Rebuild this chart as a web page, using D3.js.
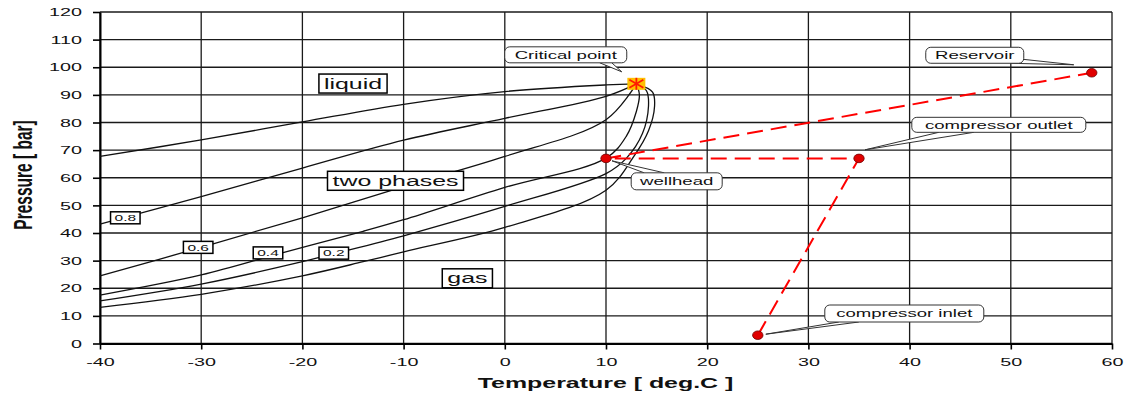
<!DOCTYPE html>
<html>
<head>
<meta charset="utf-8">
<script src="https://cdn.jsdelivr.net/npm/d3@7"></script>
<style>
  body { margin: 0; background: #fff; }
  text { font-family: Arial, "Liberation Sans", sans-serif; fill: #111; }
</style>
</head>
<body>
<svg id="chart"></svg>
<script>
const width = 1131;
const height = 398;
const SX = 1.72; // the original picture is stretched sideways, text too

// ---- data ----
const tempTicks = [-40, -30, -20, -10, 0, 10, 20, 30, 40, 50, 60];
const pressTicks = [0, 10, 20, 30, 40, 50, 60, 70, 80, 90, 100, 110, 120];

// phase envelope (bubble line, quality lines, dew line)
const bubbleT = [-40, -30, -20, -10, 0, 10, 13];
const bubbleP = [67.7, 73.7, 80.2, 86.6, 91.2, 93.6, 94];
const q08T = [-40, -30, -20, -10, 0, 10, 13];
const q08P = [43.2, 53.2, 63.5, 73.6, 81.5, 89.5, 94];
const q06T = [-40, -30, -20, -10, 0, 10, 13];
const q06P = [24.5, 34.8, 45.5, 56.8, 67.7, 81, 94];
const q04T = [-40, -30, -22, -14, -10, 0, 10, 12, 13, 13.3, 13];
const q04P = [17.5, 24.8, 32.8, 40.6, 44.8, 56.5, 67.1, 75, 84, 90, 94];
const q02T = [-40, -30, -20, -17, -10, 0, 10, 12, 13.6, 14.2, 14, 13];
const q02P = [15.4, 21.5, 29.6, 32.4, 39, 49.6, 61.5, 67, 76, 86, 91.5, 94];
const dewT = [-40, -30, -20, -14, -10, 0, 10, 12.8, 14.2, 14.8, 14.6, 13];
const dewP = [13.1, 17.8, 24.5, 29.6, 33.2, 42, 55.5, 68, 77, 86, 91, 94];

const qualityNames = ["0.8", "0.6", "0.4", "0.2"];
const qualityLabelT = [-37.5, -30.3, -23.4, -16.9];
const qualityLabelP = [45.5, 34.8, 32.8, 32.7];

const regionNames = ["liquid", "two phases", "gas"];
const regionT = [-15, -10.8, -3.7];
const regionP = [94.1, 58.9, 23.6];

const criticalT = 13;
const criticalP = 94;

// production path: compressor inlet -> outlet -> wellhead -> reservoir
const pathNames = ["compressor inlet", "compressor outlet", "wellhead", "Reservoir"];
const pathT = [25, 35, 10, 58];
const pathP = [3, 67, 67, 98];

// ---- layout ----
const margin = { top: 12, bottom: 54.5, left: 100, right: 19 };

const svg = d3.select("svg#chart")
  .attr("width", width)
  .attr("height", height);

const x = d3.scaleLinear()
  .domain([-40, 60])
  .range([margin.left, width - margin.right]);
const y = d3.scaleLinear()
  .domain([0, 120])
  .range([height - margin.bottom, margin.top]);

function wideText(sel, px, py, str) {
  return sel.append("text")
    .attr("transform", "translate(" + px + "," + py + ") scale(" + SX + ",1)")
    .text(str);
}

// grid
const grid = svg.append("g").attr("id", "grid")
  .attr("stroke", "#1a1a1a")
  .attr("stroke-width", 1.3);
grid.selectAll("line.v")
  .data(tempTicks)
  .enter().append("line")
    .attr("class", "v")
    .attr("x1", d => x(d)).attr("x2", d => x(d))
    .attr("y1", y(0)).attr("y2", y(120));
grid.selectAll("line.h")
  .data(pressTicks)
  .enter().append("line")
    .attr("class", "h")
    .attr("x1", x(-40)).attr("x2", x(60))
    .attr("y1", d => y(d)).attr("y2", d => y(d));

// axes (plain hyphen for negatives, like the original)
const fmt = d => String(d);
const xAxis = svg.append("g")
  .attr("transform", "translate(0," + y(0) + ")")
  .call(d3.axisBottom(x).tickValues(tempTicks).tickFormat(fmt).tickSizeInner(6).tickSizeOuter(0));
xAxis.selectAll("text")
  .attr("y", 14.7)
  .attr("transform", "scale(" + SX + ",1)")
  .style("font-size", "11.5px");

const yAxis = svg.append("g")
  .attr("transform", "translate(" + x(-40) + ",0)")
  .call(d3.axisLeft(y).tickValues(pressTicks).tickFormat(fmt).tickSizeInner(7).tickSizeOuter(0));
yAxis.selectAll("text")
  .attr("x", -18 / SX)
  .attr("transform", "scale(" + SX + ",1)")
  .style("font-size", "11.5px");

[xAxis, yAxis].forEach(a => {
  a.select(".domain").attr("stroke", "#000").attr("stroke-width", 2);
  a.selectAll(".tick line").attr("stroke", "#000").attr("stroke-width", 1.6);
  a.selectAll("text").style("fill", "#111").style("font-family", "Arial, 'Liberation Sans', sans-serif");
});

// axis titles
wideText(svg, width / 2 + 40, 388, "Temperature [ deg.C ]")
  .attr("text-anchor", "middle")
  .style("font-size", "14.5px")
  .style("font-weight", "bold");
svg.append("text")
  .attr("transform", "translate(32,175) scale(" + SX + ",1) rotate(-90)")
  .attr("text-anchor", "middle")
  .style("font-size", "15.5px")
  .style("font-weight", "bold")
  .text("Pressure [ bar]");

// envelope curves
const curves = [
  d3.zip(bubbleT, bubbleP),
  d3.zip(q08T, q08P),
  d3.zip(q06T, q06P),
  d3.zip(q04T, q04P),
  d3.zip(q02T, q02P),
  d3.zip(dewT, dewP)
];
const line = d3.line()
  .x(d => x(d[0]))
  .y(d => y(d[1]))
  .curve(d3.curveCatmullRom.alpha(0.5));
svg.append("g").attr("id", "envelope")
  .selectAll("path")
  .data(curves)
  .enter().append("path")
    .attr("d", line)
    .attr("fill", "none")
    .attr("stroke", "#111")
    .attr("stroke-width", 1.3);

// boxed text labels (square corners)
function boxedLabel(g, px, py, str, size, padX, boxH) {
  const t = wideText(g, px, py, str)
    .attr("text-anchor", "middle")
    .attr("dy", "0.35em")
    .style("font-size", size + "px");
  const w = t.node().getBBox().width * SX + 2 * padX;
  g.insert("rect", "text")
    .attr("x", px - w / 2)
    .attr("y", py - boxH / 2)
    .attr("width", w)
    .attr("height", boxH)
    .attr("fill", "#fff")
    .attr("stroke", "#000")
    .attr("stroke-width", 1.5);
}

regionNames.forEach((name, i) => {
  const g = svg.append("g").attr("class", "region");
  boxedLabel(g, x(regionT[i]), y(regionP[i]), name, 14.5, 5, 19);
});
qualityNames.forEach((name, i) => {
  const g = svg.append("g").attr("class", "quality");
  boxedLabel(g, x(qualityLabelT[i]), y(qualityLabelP[i]), name, 9, 4, 12);
});

// red dashed production path
const pathPts = d3.zip(pathT, pathP);
svg.append("path")
  .attr("d", d3.line().x(d => x(d[0])).y(d => y(d[1]))(pathPts))
  .attr("fill", "none")
  .attr("stroke", "#ff0000")
  .attr("stroke-width", 2)
  .attr("stroke-dasharray", "16,8");

svg.append("g").selectAll("ellipse")
  .data(pathPts)
  .enter().append("ellipse")
    .attr("cx", d => x(d[0]))
    .attr("cy", d => y(d[1]))
    .attr("rx", 5.2)
    .attr("ry", 4.3)
    .attr("fill", "#e00000")
    .attr("stroke", "#700000")
    .attr("stroke-width", 0.8);

// critical point marker
const cx = x(criticalT), cy = y(criticalP);
svg.append("rect")
  .attr("x", cx - 9).attr("y", cy - 6)
  .attr("width", 18).attr("height", 12)
  .attr("fill", "#ffbf00");
const star = svg.append("g").attr("stroke", "#ff1a00").attr("stroke-width", 1.8);
[[0, -6, 0, 6], [-7, -4, 7, 4], [-7, 4, 7, -4]].forEach(s => {
  star.append("line")
    .attr("x1", cx + s[0]).attr("y1", cy + s[1])
    .attr("x2", cx + s[2]).attr("y2", cy + s[3]);
});

// callouts: box offset from the point, tail tip offset, tail base on the box
const callouts = [
  { text: "Critical point", at: [criticalT, criticalP], box: [-70.6, -29, 122, 16], tip: [-14.6, -12], base: [[34, 8], [46, 8]] },
  { text: "Reservoir", at: [pathT[3], pathP[3]], box: [-117, -17.5, 98, 16], tip: [-18, -8], base: [[36, 8], [48, 4]] },
  { text: "compressor outlet", at: [pathT[1], pathP[1]], box: [139.8, -33.6, 174, 15], tip: [6, -8.6], base: [[-60, 7.5], [-25, 7.5]] },
  { text: "compressor inlet", at: [pathT[0], pathP[0]], box: [146.5, -21.7, 159, 17], tip: [8, -1], base: [[-65.5, 8.5], [-45.5, 8.5]] },
  { text: "wellhead", at: [pathT[2], pathP[2]], box: [70.7, 22.9, 91, 17], tip: [6, 2.4], base: [[-32.5, -8.5], [-12.5, -8.5]] }
];
callouts.forEach(c => {
  const ax = x(c.at[0]), ay = y(c.at[1]);
  const bx = ax + c.box[0], by = ay + c.box[1];
  const w = c.box[2], h = c.box[3];
  const g = svg.append("g").attr("class", "callout");
  g.append("path")
    .attr("d", "M" + (bx + c.base[0][0]) + "," + (by + c.base[0][1]) +
               "L" + (ax + c.tip[0]) + "," + (ay + c.tip[1]) +
               "L" + (bx + c.base[1][0]) + "," + (by + c.base[1][1]))
    .attr("fill", "#fff")
    .attr("stroke", "#333")
    .attr("stroke-width", 1);
  g.append("rect")
    .attr("x", bx - w / 2).attr("y", by - h / 2)
    .attr("width", w).attr("height", h)
    .attr("rx", 5).attr("ry", 5)
    .attr("fill", "#fff")
    .attr("stroke", "#333")
    .attr("stroke-width", 1);
  wideText(g, bx, by, c.text)
    .attr("text-anchor", "middle")
    .attr("dy", "0.35em")
    .style("font-size", "10.8px");
});
</script>
</body>
</html>
